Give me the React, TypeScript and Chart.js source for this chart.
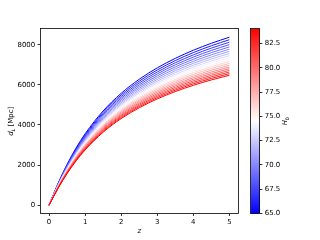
import { useEffect, useRef } from "react";
import { Chart, registerables } from "chart.js";

Chart.register(...registerables);

// ---- data ----
const zValues = [0, 0.25, 0.5, 0.75, 1, 1.5, 2, 2.5, 3, 3.5, 4, 4.5, 5];
const h0Values = [65, 66, 67, 68, 69, 70, 71, 72, 73, 74, 75, 76, 77, 78, 79, 80, 81, 82, 83, 84];

const dH65 = [0, 1086, 2034, 2853, 3558, 4699, 5578, 6276, 6845, 7320, 7723, 8071, 8374];
const dH66 = [0, 1069, 2003, 2809, 3504, 4628, 5494, 6181, 6741, 7209, 7606, 7948, 8248];
const dH67 = [0, 1053, 1973, 2767, 3452, 4559, 5412, 6088, 6641, 7101, 7492, 7830, 8124];
const dH68 = [0, 1038, 1944, 2727, 3401, 4492, 5332, 5999, 6543, 6997, 7382, 7714, 8005];
const dH69 = [0, 1023, 1916, 2687, 3352, 4427, 5255, 5912, 6448, 6895, 7275, 7603, 7889];
const dH70 = [0, 1008, 1889, 2649, 3304, 4364, 5180, 5828, 6356, 6797, 7171, 7494, 7776];
const dH71 = [0, 994, 1862, 2612, 3257, 4302, 5107, 5745, 6267, 6701, 7070, 7388, 7667];
const dH72 = [0, 980, 1836, 2575, 3212, 4242, 5036, 5666, 6180, 6608, 6972, 7286, 7560];
const dH73 = [0, 967, 1811, 2540, 3168, 4184, 4967, 5588, 6095, 6517, 6876, 7186, 7457];
const dH74 = [0, 954, 1787, 2506, 3125, 4128, 4900, 5513, 6013, 6429, 6783, 7089, 7356];
const dH75 = [0, 941, 1763, 2472, 3084, 4073, 4835, 5439, 5932, 6344, 6693, 6994, 7258];
const dH76 = [0, 929, 1740, 2440, 3043, 4019, 4771, 5367, 5854, 6260, 6605, 6902, 7162];
const dH77 = [0, 917, 1717, 2408, 3003, 3967, 4709, 5298, 5778, 6179, 6519, 6813, 7069];
const dH78 = [0, 905, 1695, 2377, 2965, 3916, 4649, 5230, 5704, 6100, 6436, 6725, 6979];
const dH79 = [0, 893, 1674, 2347, 2927, 3867, 4590, 5164, 5632, 6022, 6354, 6640, 6890];
const dH80 = [0, 882, 1653, 2318, 2891, 3818, 4532, 5099, 5562, 5947, 6275, 6557, 6804];
const dH81 = [0, 871, 1632, 2289, 2855, 3771, 4476, 5036, 5493, 5874, 6197, 6476, 6720];
const dH82 = [0, 861, 1612, 2261, 2820, 3725, 4422, 4975, 5426, 5802, 6122, 6397, 6638];
const dH83 = [0, 850, 1593, 2234, 2786, 3680, 4369, 4915, 5361, 5732, 6048, 6320, 6558];
const dH84 = [0, 840, 1574, 2207, 2753, 3636, 4317, 4856, 5297, 5664, 5976, 6245, 6480];

const distanceSeries = [
  dH65, dH66, dH67, dH68, dH69, dH70, dH71, dH72, dH73, dH74,
  dH75, dH76, dH77, dH78, dH79, dH80, dH81, dH82, dH83, dH84,
];

const xTicks = [0, 1, 2, 3, 4, 5];
const yTicks = [0, 2000, 4000, 6000, 8000];
const cbTicks = [65, 67.5, 70, 72.5, 75, 77.5, 80, 82.5];
const xRange = [-0.25, 5.25];
const yRange = [-418.7, 8793.1];
const cbRange = [65, 84];

// ---- styling helpers ----
const FONT = "'DejaVu Sans', 'Noto Sans', sans-serif";
const FS = 6.94;

function bwr(t: number): string {
  if (t < 0.5) {
    const v = Math.round(510 * t);
    return `rgb(${v},${v},255)`;
  }
  const v = Math.round(510 * (1 - t));
  return `rgb(255,${v},${v})`;
}

type Part = { text: string; font: string; dy: number };

function drawRich(ctx: CanvasRenderingContext2D, parts: Part[], cx: number, cy: number, rot: number) {
  ctx.save();
  ctx.translate(cx, cy);
  ctx.rotate(rot);
  ctx.textAlign = "left";
  ctx.textBaseline = "alphabetic";
  ctx.fillStyle = "#000";
  const widths = parts.map((p) => {
    ctx.font = p.font;
    return ctx.measureText(p.text).width;
  });
  const total = widths.reduce((a, b) => a + b, 0);
  let x = -total / 2;
  parts.forEach((p, i) => {
    ctx.font = p.font;
    ctx.fillText(p.text, x, 2.5 + p.dy);
    x += widths[i];
  });
  ctx.restore();
}

const overlayPlugin = {
  id: "overlay",
  afterDraw(chart: any) {
    const { ctx, chartArea: ca, scales } = chart;
    ctx.save();
    // axes box (spines)
    ctx.strokeStyle = "#000";
    ctx.lineWidth = 0.8;
    const l = Math.floor(ca.left) + 0.5;
    const r = Math.floor(ca.right) + 0.5;
    const t = Math.floor(ca.top) + 0.5;
    const b = Math.floor(ca.bottom) + 0.5;
    ctx.strokeRect(l, t, r - l, b - t);

    // colorbar
    const cb = scales.cb;
    const top = cb.getPixelForValue(cbRange[1]);
    const bot = cb.getPixelForValue(cbRange[0]);
    const x2 = cb.left;
    const x1 = x2 - 9.2;
    const g = ctx.createLinearGradient(0, bot, 0, top);
    g.addColorStop(0, "rgb(0,0,255)");
    g.addColorStop(0.5, "rgb(255,255,255)");
    g.addColorStop(1, "rgb(255,0,0)");
    ctx.fillStyle = g;
    ctx.fillRect(x1, top, x2 - x1, bot - top);
    const bl = Math.floor(x1) + 0.5;
    const br = Math.floor(x2) - 0.5;
    const bt = Math.floor(top) + 0.5;
    const bb = Math.floor(bot) + 0.5;
    ctx.strokeRect(bl, bt, br - bl, bb - bt);
    ctx.restore();

    // axis titles
    const midY = (ca.top + ca.bottom) / 2;
    const midX = (ca.left + ca.right) / 2;
    drawRich(
      ctx,
      [
        { text: "d", font: `italic ${FS}px ${FONT}`, dy: 0 },
        { text: "L", font: `italic ${FS * 0.7}px ${FONT}`, dy: 1.5 },
        { text: " [Mpc]", font: `${FS}px ${FONT}`, dy: 0 },
      ],
      10.5,
      midY,
      -Math.PI / 2
    );
    drawRich(ctx, [{ text: "z", font: `italic ${FS}px ${FONT}`, dy: 0 }], midX, 230.5, 0);
    drawRich(
      ctx,
      [
        { text: "H", font: `italic ${FS}px ${FONT}`, dy: 0 },
        { text: "0", font: `${FS * 0.7}px ${FONT}`, dy: 1.5 },
      ],
      284.5,
      midY,
      -Math.PI / 2
    );
  },
};

export default function App() {
  const ref = useRef<HTMLCanvasElement>(null);

  useEffect(() => {
    if (!ref.current) return;
    Chart.defaults.font.family = FONT;
    Chart.defaults.font.size = FS;
    Chart.defaults.color = "#000";

    const n = h0Values.length;
    const datasets = h0Values.map((h, i) => ({
      label: `H0=${h}`,
      data: zValues.map((z, k) => ({ x: z, y: distanceSeries[i][k] })),
      borderColor: bwr((h - cbRange[0]) / (cbRange[1] - cbRange[0])),
      borderWidth: 1,
      pointRadius: 0,
      fill: false,
      cubicInterpolationMode: "monotone" as const,
      order: n - i,
      xAxisID: "x",
      yAxisID: "y",
    }));

    const tickGrid = {
      display: true,
      drawOnChartArea: false,
      drawTicks: true,
      tickLength: 2.4,
      tickWidth: 0.8,
      tickColor: "#000",
    };

    const chart = new Chart(ref.current, {
      type: "line",
      data: { datasets },
      options: {
        animation: false,
        responsive: false,
        devicePixelRatio: 1,
        layout: { padding: { top: 28.8, left: 0, right: 0, bottom: 0 } },
        plugins: { legend: { display: false }, tooltip: { enabled: false } },
        scales: {
          x: {
            type: "linear",
            position: "bottom",
            min: xRange[0],
            max: xRange[1],
            grid: tickGrid,
            border: { display: false },
            ticks: {
              padding: 2.4,
              maxRotation: 0,
              font: { size: FS, family: FONT },
              color: "#000",
              callback: (v: any) => String(v),
            },
            afterBuildTicks: (s: any) => {
              s.ticks = xTicks.map((v) => ({ value: v }));
            },
            afterFit: (s: any) => {
              s.height = 26.4;
            },
          },
          y: {
            type: "linear",
            position: "left",
            min: yRange[0],
            max: yRange[1],
            grid: tickGrid,
            border: { display: false },
            ticks: {
              padding: 2.4,
              font: { size: FS, family: FONT },
              color: "#000",
              callback: (v: any) => String(v),
            },
            afterBuildTicks: (s: any) => {
              s.ticks = yTicks.map((v) => ({ value: v }));
            },
            afterFit: (s: any) => {
              s.width = 40;
            },
          },
          gap: {
            type: "linear",
            position: "right",
            weight: 0,
            display: true,
            min: 0,
            max: 1,
            grid: { display: false },
            border: { display: false },
            ticks: { display: false },
            afterFit: (s: any) => {
              s.width = 21.6;
            },
          },
          cb: {
            type: "linear",
            position: "right",
            weight: 1,
            display: true,
            min: cbRange[0],
            max: cbRange[1],
            grid: tickGrid,
            border: { display: false },
            ticks: {
              padding: 2.4,
              font: { size: FS, family: FONT },
              color: "#000",
              callback: (v: any) => Number(v).toFixed(1),
            },
            afterBuildTicks: (s: any) => {
              s.ticks = cbTicks.map((v) => ({ value: v }));
            },
            afterFit: (s: any) => {
              s.width = 60;
            },
          },
        },
      } as any,
      plugins: [overlayPlugin],
    });

    return () => chart.destroy();
  }, []);

  return (
    <div style={{ position: "absolute", left: 0, top: 0, width: 320, height: 240, background: "#fff" }}>
      <canvas ref={ref} width={320} height={240} style={{ display: "block", width: 320, height: 240 }} />
    </div>
  );
}
